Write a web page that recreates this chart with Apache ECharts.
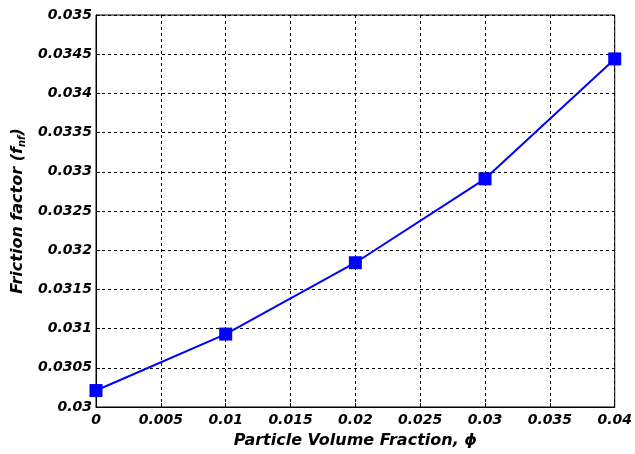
<!DOCTYPE html>
<html>
<head>
<meta charset="utf-8">
<script src="https://cdn.jsdelivr.net/npm/echarts@6/dist/echarts.min.js"></script>
<style>
  html, body { margin: 0; padding: 0; background: #fff; }
  #chart { width: 635px; height: 454px; }
</style>
</head>
<body>
<div id="chart"></div>
<script>
// particle volume fraction vs friction factor
const phiValues = [0, 0.01, 0.02, 0.03, 0.04];
const frictionValues = [0.03021, 0.03093, 0.03184, 0.03291, 0.03444];

const chart = echarts.init(document.getElementById('chart'));
const font = '"DejaVu Sans", Arial, sans-serif';
const fmt = (v) => String(+v.toFixed(4));

chart.setOption({
  animation: false,
  grid: {
    left: 96, right: 18, top: 15, bottom: 47,
    show: true,
    borderColor: '#000',
    borderWidth: 1,
    containLabel: false
  },
  xAxis: {
    type: 'value',
    min: 0, max: 0.04, interval: 0.005,
    name: 'Particle Volume Fraction, ϕ',
    nameLocation: 'middle',
    nameGap: 26,
    nameTextStyle: { fontFamily: font, fontSize: 16, fontWeight: 'bold', fontStyle: 'italic', color: '#000' },
    axisLine: { show: true, lineStyle: { color: '#000', width: 1 } },
    axisTick: { show: true, inside: true, length: 4, lineStyle: { color: '#000' } },
    axisLabel: { fontFamily: font, fontSize: 14, fontWeight: 'bold', fontStyle: 'italic', color: '#000', margin: 6, formatter: fmt },
    splitLine: { show: true, lineStyle: { color: '#000', type: [3, 3], width: 1 } }
  },
  yAxis: {
    type: 'value',
    min: 0.03, max: 0.035, interval: 0.0005,
    name: '{a|Friction factor (f}{s|nf}{a|)}',
    nameLocation: 'middle',
    nameGap: 68,
    nameTextStyle: {
      rich: {
        a: { fontFamily: font, fontSize: 16, fontWeight: 'bold', fontStyle: 'italic', color: '#000' },
        s: { fontFamily: font, fontSize: 10, fontWeight: 'bold', fontStyle: 'italic', color: '#000', padding: [8, 0, 0, 0] }
      }
    },
    axisLine: { show: true, lineStyle: { color: '#000', width: 1 } },
    axisTick: { show: true, inside: true, length: 4, lineStyle: { color: '#000' } },
    axisLabel: { fontFamily: font, fontSize: 14, fontWeight: 'bold', fontStyle: 'italic', color: '#000', margin: 4, formatter: fmt },
    splitLine: { show: true, lineStyle: { color: '#000', type: [3, 3], width: 1 } }
  },
  series: [{
    type: 'line',
    data: phiValues.map((p, i) => [p, frictionValues[i]]),
    symbol: 'rect',
    symbolSize: 13,
    itemStyle: { color: '#0000ff' },
    lineStyle: { color: '#0000ff', width: 2 },
    clip: false
  }]
});
</script>
</body>
</html>
